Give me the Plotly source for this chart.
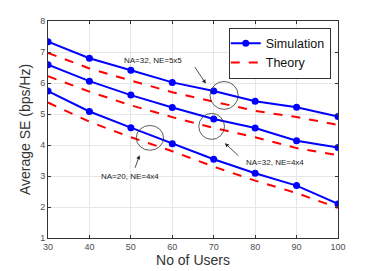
import plotly.graph_objects as go

users = [30, 40, 50, 60, 70, 80, 90, 100]
sim_32_5x5 = [7.33, 6.80, 6.41, 6.02, 5.74, 5.41, 5.22, 4.92]
th_32_5x5 = [6.97, 6.47, 6.08, 5.70, 5.40, 5.10, 4.90, 4.65]
sim_32_4x4 = [6.59, 6.06, 5.61, 5.21, 4.84, 4.55, 4.14, 3.92]
th_32_4x4 = [6.22, 5.72, 5.28, 4.90, 4.55, 4.25, 3.90, 3.67]
sim_20_4x4 = [5.74, 5.08, 4.56, 4.04, 3.54, 3.09, 2.69, 2.10]
th_20_4x4 = [5.37, 4.75, 4.25, 3.80, 3.30, 2.85, 2.45, 1.97]

BLUE = "#0000FF"
RED = "#FF0000"
FONT = "Liberation Sans, Arial, sans-serif"

fig = go.Figure()
sims = [sim_32_5x5, sim_32_4x4, sim_20_4x4]
ths = [th_32_5x5, th_32_4x4, th_20_4x4]
for i, (s, t) in enumerate(zip(sims, ths)):
    fig.add_trace(go.Scatter(x=users, y=s, mode="lines+markers", name="Simulation",
                             line=dict(color=BLUE, width=2), marker=dict(color=BLUE, size=7),
                             showlegend=(i == 0), legendgroup="sim"))
    fig.add_trace(go.Scatter(x=users, y=t, mode="lines", name="Theory",
                             line=dict(color=RED, width=2, dash="dash"),
                             showlegend=(i == 0), legendgroup="th"))

# ellipses (circles in pixel space)
circles = [(72.5, 5.6, 3.4, 0.45), (69.5, 4.6, 3.1, 0.42), (54.6, 4.23, 3.3, 0.40)]
for cx, cy, rx, ry in circles:
    fig.add_shape(type="circle", xref="x", yref="y", x0=cx - rx, x1=cx + rx,
                  y0=cy - ry, y1=cy + ry, line=dict(color="#333333", width=0.8))

texts = [(55.3, 6.73, "NA=32, NE=5x5"), (84.7, 3.44, "NA=32, NE=4x4"), (49.7, 2.99, "NA=20, NE=4x4")]
for x, y, t in texts:
    fig.add_annotation(x=x, y=y, text=t, showarrow=False, font=dict(family=FONT, size=8, color="#222222"))

arrows = [(68.1, 5.98, -12, -18), (72.7, 4.06, 15, 14), (52.1, 3.67, -5, 14)]
for x, y, ax, ay in arrows:
    fig.add_annotation(x=x, y=y, ax=ax, ay=ay, text="", showarrow=True, arrowhead=2,
                       arrowsize=1, arrowwidth=0.8, arrowcolor="#222222")

axis_common = dict(showgrid=True, gridcolor="#e6e6e6", gridwidth=1, showline=True,
                   linecolor="#333333", linewidth=1, mirror="ticks", ticks="inside",
                   ticklen=3, tickcolor="#333333", zeroline=False, automargin=False,
                   tickfont=dict(family=FONT, size=9, color="#4d4d4d"))

# page body has an 8px default margin, so the figure is sized/offset accordingly
fig.update_layout(
    width=366, height=263,
    margin=dict(l=40, r=36, t=13, b=33),
    plot_bgcolor="white", paper_bgcolor="white",
    xaxis=dict(range=[30, 100], dtick=10, title=dict(text="No of Users", font=dict(family=FONT, size=14, color="#333333"), standoff=4), **axis_common),
    yaxis=dict(range=[1, 8], dtick=1, title=dict(text="Average SE (bps/Hz)", font=dict(family=FONT, size=14, color="#333333"), standoff=6), **axis_common),
    legend=dict(x=0.975, y=0.97, xanchor="right", yanchor="top", bgcolor="white",
                bordercolor="#333333", borderwidth=1, font=dict(family=FONT, size=12.5, color="#111111"),
                tracegroupgap=0, itemwidth=30, indentation=-4),
    showlegend=True,
)

fig.write_html("out.html")
